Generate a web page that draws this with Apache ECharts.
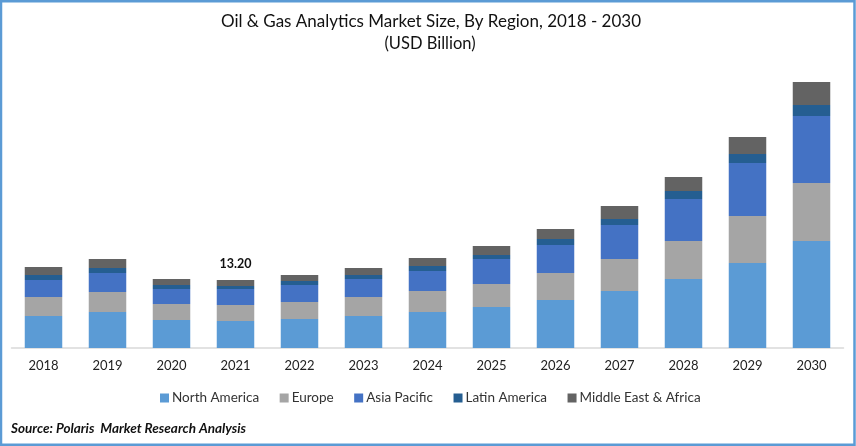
<!DOCTYPE html>
<html><head><meta charset="utf-8">
<style>html,body{margin:0;padding:0;background:#fff}#c{width:856px;height:446px}</style>
<script src="https://cdn.jsdelivr.net/npm/echarts@6/dist/echarts.min.js"></script>
</head><body><div id="c"></div>
<script>
const years = ['2018','2019','2020','2021','2022','2023','2024','2025','2026','2027','2028','2029','2030'];
const northAmerica = [6.21,6.99,5.44,5.24,5.63,6.21,6.99,7.96,9.32,11.06,13.39,16.5,20.77];
const europe = [3.69,3.88,3.11,3.11,3.30,3.69,4.08,4.46,5.24,6.21,7.38,9.12,11.26];
const asiaPacific = [3.30,3.69,2.91,3.11,3.30,3.49,3.88,4.85,5.44,6.60,8.15,10.29,13.0];
const latinAmerica = [0.97,0.97,0.78,0.58,0.78,0.78,0.97,0.78,1.16,1.16,1.55,1.75,2.14];
const middleEastAfrica = [1.55,1.75,1.16,1.16,1.16,1.36,1.55,1.75,1.94,2.52,2.72,3.30,4.46];
const labelYear = '2021';
const labelText = '13.20';
const F = 'Lato';
const mk = (name, data, color) => ({name, type:'bar', stack:'t', barWidth:37.5, data, itemStyle:{color}, emphasis:{disabled:true}});
const top5 = mk('Middle East & Africa', middleEastAfrica.map((v,i)=> years[i]===labelYear ? {value:v,label:{show:true,position:'top',distance:10,formatter:labelText,fontFamily:F,fontSize:12.5,fontWeight:'bold',color:'#111'}} : v), '#636363');
const chart = echarts.init(document.getElementById('c'), null, {renderer:'canvas'});
chart.setOption({
  animation:false,
  backgroundColor:'#fff',
  title:[
    {text:'Oil & Gas Analytics Market Size, By Region, 2018 - 2030',left:426,top:8,textAlign:'center',textStyle:{fontFamily:F,fontSize:17,fontWeight:'normal',color:'#111'}},
    {text:'(USD Billion)',left:425,top:30,textAlign:'center',textStyle:{fontFamily:F,fontSize:16.5,fontWeight:'normal',color:'#111'}},
    {text:'Source: Polaris  Market Research Analysis',left:6,top:417,textStyle:{fontFamily:F,fontSize:13.5,fontWeight:'bold',fontStyle:'italic',color:'#111'}}
  ],
  legend:{left:155,top:386,itemWidth:9,itemHeight:9,itemGap:20.5,icon:'rect',
    textStyle:{fontFamily:F,fontSize:13.5,color:'#333',padding:[0,0,0,-2]}},
  grid:{left:11.5,width:832,top:39,height:309},
  xAxis:{type:'category',data:years,axisTick:{show:false},
    axisLine:{lineStyle:{color:'#d9d9d9',width:1.5}},
    axisLabel:{fontFamily:F,fontSize:13,color:'#222',margin:11}},
  yAxis:{type:'value',min:0,max:60,show:false,splitLine:{show:false}},
  series:[
    mk('North America',northAmerica,'#5B9BD5'),
    mk('Europe',europe,'#A5A5A5'),
    mk('Asia Pacific',asiaPacific,'#4472C4'),
    mk('Latin America',latinAmerica,'#255E91'),
    top5
  ],
  graphic:[{type:'rect',silent:true,z:100,shape:{x:1,y:1.25,width:853.5,height:443.5},style:{fill:'none',stroke:'#5B9BD5',lineWidth:2.5}}]
});
</script></body></html>
